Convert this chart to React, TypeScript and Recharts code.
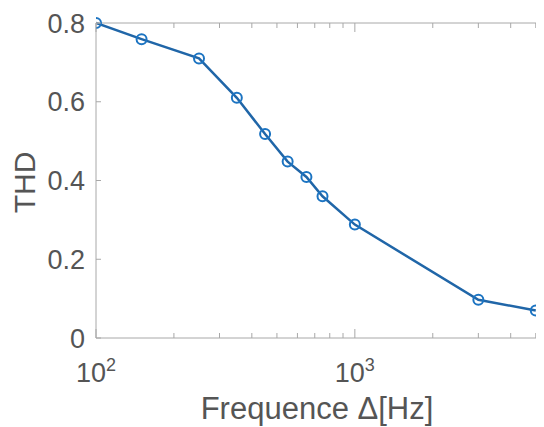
import { LineChart, Line, XAxis, YAxis } from 'recharts'

const freq = [100, 150, 250, 350, 450, 550, 650, 750, 1000, 3000, 5000]
const thd = [0.8, 0.759, 0.71, 0.61, 0.518, 0.448, 0.409, 0.36, 0.288, 0.097, 0.07]

const xTicks = [100, 200, 300, 400, 500, 600, 700, 800, 900, 1000, 2000, 3000, 4000, 5000]
const xMajor = [100, 1000]
const yTicks = [0, 0.2, 0.4, 0.6, 0.8]
const yLabels = ['0', '0.2', '0.4', '0.6', '0.8']

const data = freq.map((f, i) => ({ freq: f, thd: thd[i] }))

const FONT = "Arial, 'Liberation Sans', Helvetica, sans-serif"
const AXIS = '#a8a8a8'
const TEXT = '#555555'
const BLUE = '#2066a8'

const BottomTick = ({ x, y, payload }: any) => {
  const major = xMajor.includes(payload.value)
  const exp = Math.round(Math.log10(payload.value))
  return (
    <g>
      <line x1={x} x2={x} y1={y} y2={y - (major ? 9 : 5)} stroke={AXIS} />
      {major && (
        <text x={x} y={y + 44} textAnchor="middle" fontSize={27} fill={TEXT} fontFamily={FONT}>
          <tspan>10</tspan>
          <tspan dy={-11} fontSize={18}>{exp}</tspan>
        </text>
      )}
    </g>
  )
}

const TopTick = ({ x, y, payload }: any) => {
  const major = xMajor.includes(payload.value)
  return <line x1={x} x2={x} y1={y} y2={y + (major ? 9 : 5)} stroke={AXIS} />
}

const LeftTick = ({ x, y, payload }: any) => {
  const idx = yTicks.indexOf(payload.value)
  return (
    <g>
      <line x1={x} x2={x + 5} y1={y} y2={y} stroke={AXIS} />
      <text x={x - 11} y={y} dy="0.36em" textAnchor="end" fontSize={27} fill={TEXT} fontFamily={FONT}>
        {yLabels[idx]}
      </text>
    </g>
  )
}

const RightTick = ({ x, y }: any) => (
  <line x1={x} x2={x - 5} y1={y} y2={y} stroke={AXIS} />
)

export default function App() {
  return (
    <LineChart
      width={536}
      height={419}
      data={data}
      margin={{ top: 0, right: 0, bottom: 0, left: 0 }}
    >
      <XAxis
        dataKey="freq"
        type="number"
        scale="log"
        domain={[100, 5100]}
        allowDataOverflow
        ticks={xTicks}
        interval={0}
        height={89}
        tickLine={false}
        tickSize={0}
        tickMargin={0}
        axisLine={{ stroke: AXIS }}
        tick={<BottomTick />}
        label={{
          content: ({ viewBox }: any) => (
            <text
              x={viewBox.x + viewBox.width / 2}
              y={viewBox.y + 81}
              textAnchor="middle"
              fontSize={31}
              fill={TEXT}
              fontFamily={FONT}
            >
              Frequence Δ[Hz]
            </text>
          ),
        }}
      />
      <XAxis
        xAxisId="top"
        orientation="top"
        dataKey="freq"
        type="number"
        scale="log"
        domain={[100, 5100]}
        allowDataOverflow
        ticks={xTicks}
        interval={0}
        height={15}
        tickLine={false}
        tickSize={0}
        tickMargin={0}
        axisLine={{ stroke: AXIS }}
        tick={<TopTick />}
      />
      <YAxis
        type="number"
        domain={[0, 0.8]}
        ticks={yTicks}
        interval={0}
        width={88}
        tickLine={false}
        tickSize={0}
        tickMargin={0}
        axisLine={{ stroke: AXIS }}
        tick={<LeftTick />}
        label={{
          content: ({ viewBox }: any) => {
            const cx = viewBox.x + 16
            const cy = viewBox.y + viewBox.height / 2 + 2
            return (
              <text
                x={cx}
                y={cy}
                dy="0.36em"
                transform={`rotate(-90 ${cx} ${cy})`}
                textAnchor="middle"
                fontSize={30}
                fill={TEXT}
                fontFamily={FONT}
              >
                THD
              </text>
            )
          },
        }}
      />
      <YAxis
        yAxisId="right"
        orientation="right"
        type="number"
        domain={[0, 0.8]}
        ticks={yTicks}
        interval={0}
        width={6}
        tickLine={false}
        tickSize={0}
        tickMargin={0}
        axisLine={{ stroke: AXIS }}
        tick={<RightTick />}
      />
      <Line
        dataKey="thd"
        stroke={BLUE}
        strokeWidth={2.5}
        dot={{ r: 5, stroke: '#1c74c2', strokeWidth: 2, fill: 'none' }}
        isAnimationActive={false}
      />
    </LineChart>
  )
}
